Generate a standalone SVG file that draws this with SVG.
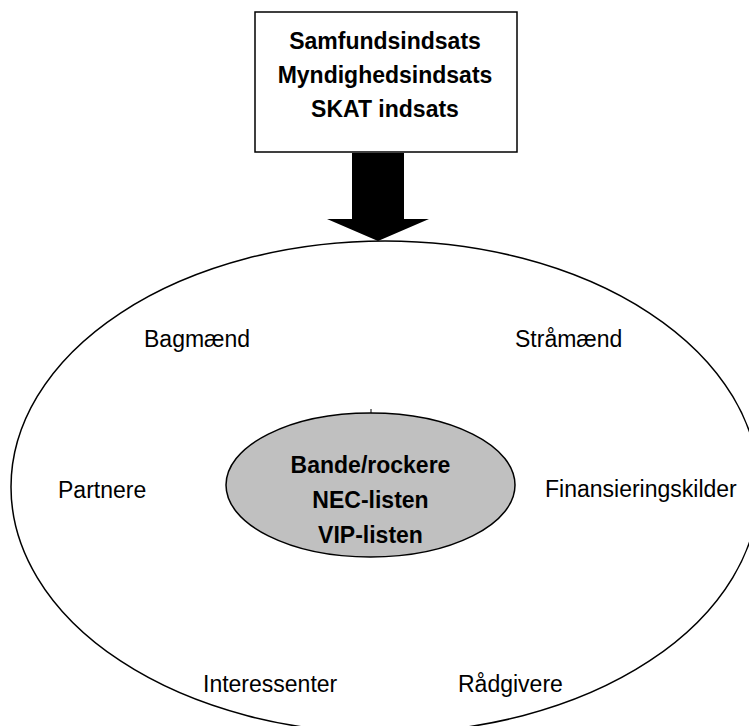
<svg xmlns="http://www.w3.org/2000/svg" width="749" height="726" viewBox="0 0 749 726">
<style>
.ln{fill:none;stroke:#000;stroke-width:1.5}
.b{font-family:"Liberation Sans",Arial,sans-serif;font-weight:bold;font-size:23px;fill:#000;text-anchor:middle}
.r{font-family:"Liberation Sans",Arial,sans-serif;font-size:23px;fill:#000}
</style>
<rect width="749" height="726" fill="#fff"/>
<g id="outer">
<ellipse class="ln" cx="385" cy="487" rx="374" ry="246"/>
<text class="r" x="144" y="347">Bagmænd</text>
<text class="r" x="515" y="347">Stråmænd</text>
<text class="r" x="58" y="498">Partnere</text>
<text class="r" x="545" y="497">Finansieringskilder</text>
<text class="r" x="203" y="692">Interessenter</text>
<text class="r" x="458" y="692">Rådgivere</text>
</g>
<g id="box">
<rect class="ln" x="255" y="12" width="262" height="140" fill="#fff"/>
<text class="b" x="385" y="49">Samfundsindsats</text>
<text class="b" x="385" y="83">Myndighedsindsats</text>
<text class="b" x="385" y="117">SKAT indsats</text>
</g>
<g id="connectors">
<polygon points="352,153 404,153 404,219 429,219 378,241 327,219 352,219" fill="#000"/>
</g>
<g id="core">
<line x1="371" y1="409" x2="371" y2="414" stroke="#000" stroke-width="1"/>
<ellipse cx="370.5" cy="485" rx="144.5" ry="72" fill="#c0c0c0" stroke="#000" stroke-width="1.5"/>
<text class="b" x="370.5" y="473">Bande/rockere</text>
<text class="b" x="370.5" y="508">NEC-listen</text>
<text class="b" x="370.5" y="543">VIP-listen</text>
</g>
</svg>
